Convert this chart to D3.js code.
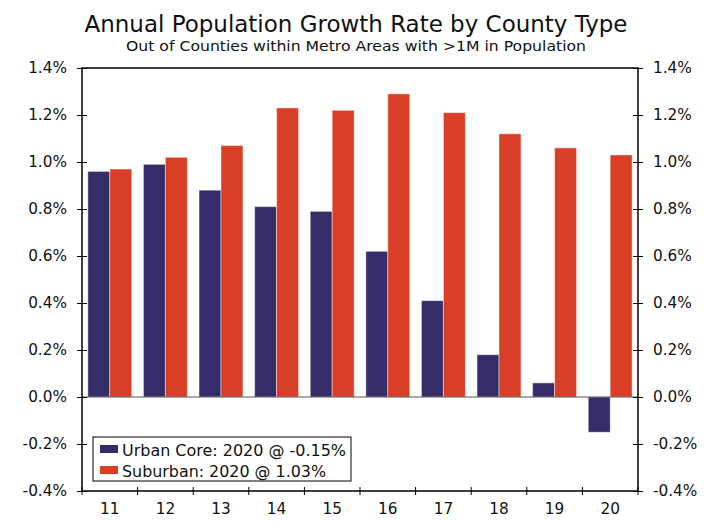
<!DOCTYPE html>
<html><head><meta charset="utf-8">
<script src="https://cdn.jsdelivr.net/npm/d3@7"></script>
<style>body{margin:0;background:#fff}svg{display:block}text{font-family:"DejaVu Sans",Verdana,sans-serif;fill:#111}</style>
</head><body>
<svg id="c" width="712" height="523"></svg>
<script>
const categories = ["11","12","13","14","15","16","17","18","19","20"];
const urbanCore = [0.96,0.99,0.88,0.81,0.79,0.62,0.41,0.18,0.06,-0.15];
const suburban = [0.97,1.02,1.07,1.23,1.22,1.29,1.21,1.12,1.06,1.03];
const seriesNames = ["Urban Core: 2020 @ -0.15%","Suburban: 2020 @ 1.03%"];
const yTicks = [-0.4,-0.2,0,0.2,0.4,0.6,0.8,1.0,1.2,1.4];

const colors = ["#352c6a","#d93f27"];
const svg = d3.select("#c");
const L=82, R=638, T=68, B=491;
const x = d3.scaleBand().domain(categories).range([L,R]).paddingInner(0.21).paddingOuter(0.105);
const xCat = d3.scaleBand().domain(categories).range([L,R]);
const y = d3.scaleLinear().domain([-0.4,1.4]).range([B,T]);
const xs = d3.scaleBand().domain([0,1]).range([0,x.bandwidth()]);

svg.append("text").attr("x",356).attr("y",32).attr("text-anchor","middle").attr("font-size",23.5).attr("textLength",543).attr("lengthAdjust","spacingAndGlyphs").text("Annual Population Growth Rate by County Type");
svg.append("text").attr("x",356).attr("y",51).attr("text-anchor","middle").attr("font-size",14).attr("textLength",460).attr("lengthAdjust","spacingAndGlyphs").text("Out of Counties within Metro Areas with >1M in Population");

const data = [urbanCore, suburban];
data.forEach((vals,si)=>{
  svg.append("g").selectAll("rect").data(vals).join("rect")
    .attr("x",(d,i)=>x(categories[i])+xs(si))
    .attr("width",xs.bandwidth())
    .attr("y",d=>y(Math.max(0,d)))
    .attr("height",d=>Math.abs(y(d)-y(0)))
    .attr("fill",colors[si])
    .attr("stroke","rgba(255,255,255,0.45)").attr("stroke-width",1);
});

svg.append("line").attr("x1",L).attr("x2",R).attr("y1",y(0)).attr("y2",y(0)).attr("stroke","#555").attr("stroke-width",1);

svg.append("rect").attr("x",L).attr("y",T).attr("width",R-L).attr("height",B-T).attr("fill","none").attr("stroke","#000").attr("stroke-width",1.5);

const fmt = d=>d.toFixed(1)+"%";
const yl = svg.append("g").attr("transform",`translate(${L},0)`).call(d3.axisLeft(y).tickValues(yTicks).tickFormat(fmt).tickSize(5).tickPadding(10));
const yr = svg.append("g").attr("transform",`translate(${R},0)`).call(d3.axisRight(y).tickValues(yTicks).tickFormat(fmt).tickSize(5).tickPadding(10));
[yl,yr].forEach(g=>{
  g.select(".domain").remove();
  g.selectAll(".tick line").attr("stroke","#000").attr("x1",-5).attr("x2",5);
  g.selectAll("text").attr("font-size",15.3).attr("fill","#111").attr("font-family","DejaVu Sans, Verdana, sans-serif");
});
yl.selectAll("text").attr("x",-15);
yr.selectAll("text").attr("x",15);

const xb = svg.append("g");
const bounds = categories.map(c=>xCat(c)).concat([R]);
xb.selectAll("line").data(bounds).join("line").attr("x1",d=>d).attr("x2",d=>d).attr("y1",B-4).attr("y2",B+4).attr("stroke","#000");
const xa = svg.append("g").attr("transform",`translate(0,${B})`).call(d3.axisBottom(xCat).tickSize(0).tickPadding(12));
xa.select(".domain").remove();
xa.selectAll("text").attr("font-size",15.3).attr("fill","#111").attr("font-family","DejaVu Sans, Verdana, sans-serif");

const lg = svg.append("g");
lg.append("rect").attr("x",93).attr("y",437).attr("width",258).attr("height",44).attr("fill","#fff").attr("stroke","#000").attr("stroke-width",1);
const lens = [224, 204];
seriesNames.forEach((n,i)=>{
  lg.append("rect").attr("x",100).attr("y",445+i*21).attr("width",18).attr("height",8).attr("fill",colors[i]);
  lg.append("text").attr("x",122).attr("y",450+i*21).attr("font-size",16).attr("dy","0.35em").attr("textLength",lens[i]).attr("lengthAdjust","spacingAndGlyphs").text(n);
});
</script>
</body></html>
